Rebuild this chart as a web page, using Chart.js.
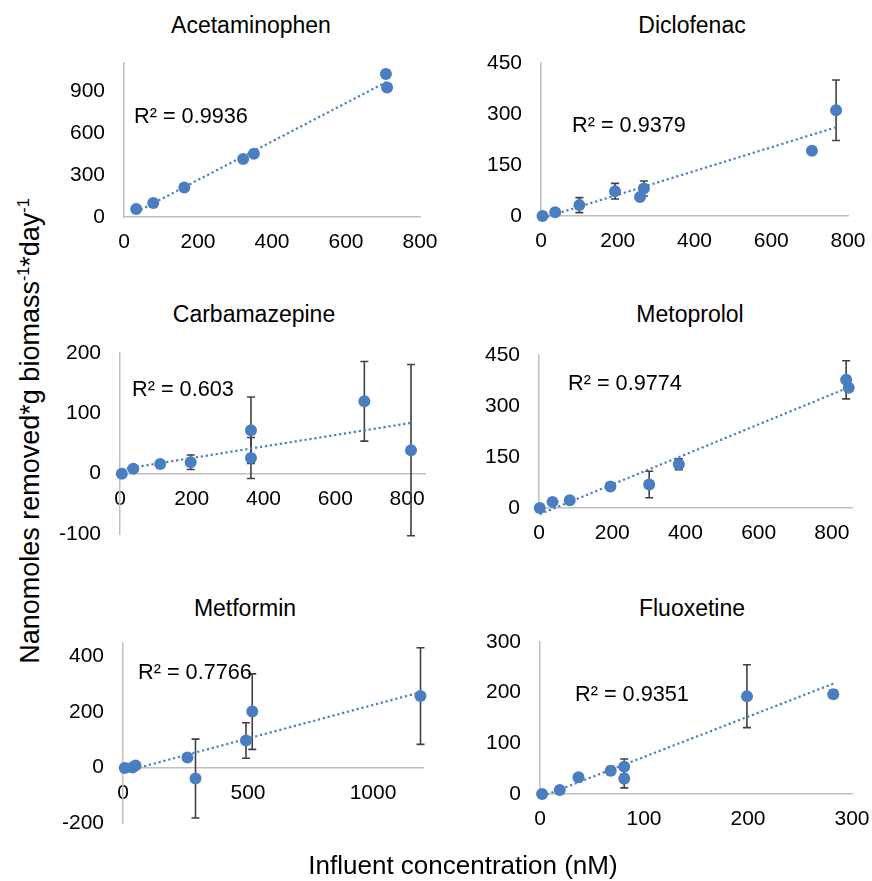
<!DOCTYPE html>
<html><head><meta charset="utf-8">
<script src="https://cdn.jsdelivr.net/npm/chart.js@4.4.0/dist/chart.umd.min.js"></script>
<style>
body{margin:0;width:872px;height:881px;background:#fff;position:relative;overflow:hidden;font-family:"Liberation Sans",Arial,sans-serif;color:#000}
canvas{position:absolute}
.t{position:absolute;white-space:nowrap;line-height:1}
sup{font-size:0.6em;vertical-align:super;line-height:0}
</style></head><body>
<script>
// ---- data ----
const acetX=[33,79,163,322,351,708,711];
const acetY=[57,100,212,416,454,1026,930];
const acetErr=[0,0,0,15,0,0,12];

const dicloX=[4,37,100,193,258,268,706,769];
const dicloY=[0,11,32,73,56,81,192,311];
const dicloErr=[0,0,22,23,8,22,8,89];

const carbaX=[5,37,112,197,365,365,681,811];
const carbaY=[0,8,16,19,72,26,120,39];
const carbaErr=[0,0,0,12,55,34,66,142];

const metoX=[2,37,84,195,301,382,839,846];
const metoY=[0,18,23,63,69,129,377,354];
const metoErr=[0,0,0,0,39,16,56,0];

const metfX=[7,38,50,258,290,492,517,1190];
const metfY=[-2,0,7,36,-40,97,201,257];
const metfErr=[0,0,0,0,142,64,136,174];

const fluoX=[2,19,37,68,81,81,199,282];
const fluoY=[0,8,33,46,54,30,193,197];
const fluoErr=[0,3,6,8,15,18,62,8];

const titles=["Acetaminophen","Diclofenac","Carbamazepine","Metoprolol","Metformin","Fluoxetine"];
const r2Labels=["R² = 0.9936","R² = 0.9379","R² = 0.603","R² = 0.9774","R² = 0.7766","R² = 0.9351"];

const xTicks1=[0,200,400,600,800], yTicks1=[0,300,600,900];
const xTicks2=[0,200,400,600,800], yTicks2=[0,150,300,450];
const xTicks3=[0,200,400,600,800], yTicks3=[-100,0,100,200];
const xTicks4=[0,200,400,600,800], yTicks4=[0,150,300,450];
const xTicks5=[0,500,1000], yTicks5=[-200,0,200,400];
const xTicks6=[0,100,200,300], yTicks6=[0,100,200,300];

const xAxisTitle="Influent concentration (nM)";

// ---- layout ----
const BLUE='#4A7EC1', GRAY='#BFBFBF', ERR='#404040';
const FONT='"Liberation Sans", Arial, sans-serif';
const PADL=70, PADT=20, PADR=30, PADB=45;

const panels=[
 {xs:acetX,ys:acetY,errs:acetErr,xt:xTicks1,yt:yTicks1,xr:[0,800],yr:[0,1105],area:[124,63,420,217],tc:[251,25],rp:[134,116],cross:false},
 {xs:dicloX,ys:dicloY,errs:dicloErr,xt:xTicks2,yt:yTicks2,xr:[0,800],yr:[0,450],area:[541,63,848,216],tc:[692,25],rp:[572,125],cross:false},
 {xs:carbaX,ys:carbaY,errs:carbaErr,xt:xTicks3,yt:yTicks3,xr:[0,850],yr:[-100,200],area:[120,353,425,534],tc:[254,314],rp:[132,389],cross:true},
 {xs:metoX,ys:metoY,errs:metoErr,xt:xTicks4,yt:yTicks4,xr:[0,855],yr:[0,450],area:[539,355,852,508],tc:[690,314],rp:[568,383],cross:false},
 {xs:metfX,ys:metfY,errs:metfErr,xt:xTicks5,yt:yTicks5,xr:[0,1200],yr:[-200,448],area:[123,643,423,823],tc:[245,608],rp:[138,672],cross:true},
 {xs:fluoX,ys:fluoY,errs:fluoErr,xt:xTicks6,yt:yTicks6,xr:[0,300],yr:[0,300],area:[540,642,852,794],tc:[692,608],rp:[575,694],cross:false}
];

function fit(xs,ys){
  const n=xs.length; let sx=0,sy=0,sxx=0,sxy=0;
  for(let i=0;i<n;i++){sx+=xs[i];sy+=ys[i];sxx+=xs[i]*xs[i];sxy+=xs[i]*ys[i];}
  const b=(n*sxy-sx*sy)/(n*sxx-sx*sx); const a=(sy-b*sx)/n;
  const x0=Math.min(...xs), x1=Math.max(...xs);
  return [{x:x0,y:a+b*x0},{x:x1,y:a+b*x1}];
}

const errPlugin={id:'errbars',beforeDatasetsDraw(chart){
  const ds=chart.data.datasets[0]; if(!ds.errs) return;
  const xs=chart.scales.x, ys=chart.scales.y, ctx=chart.ctx;
  ctx.save(); ctx.strokeStyle=ERR; ctx.lineWidth=1.6;
  ds.data.forEach((p,i)=>{
    const e=ds.errs[i]; if(!e) return;
    const px=xs.getPixelForValue(p.x), t=ys.getPixelForValue(p.y+e), b=ys.getPixelForValue(p.y-e);
    ctx.beginPath();
    ctx.moveTo(px,t);ctx.lineTo(px,b);
    ctx.moveTo(px-4,t);ctx.lineTo(px+4,t);
    ctx.moveTo(px-4,b);ctx.lineTo(px+4,b);
    ctx.stroke();
  });
  ctx.restore();
}};

function addText(txt,x,y,size,center){
  const d=document.createElement('div'); d.className='t';
  d.textContent=txt; d.style.fontSize=size+'px';
  if(center){d.style.left=x+'px';d.style.top=y+'px';d.style.transform='translate(-50%,-50%)';}
  else{d.style.left=x+'px';d.style.top=(y-0.49*size)+'px';}
  document.body.appendChild(d);
}

panels.forEach((p,k)=>{
  const [l,t,r,b]=p.area;
  const cv=document.createElement('canvas');
  const W=(r-l)+PADL+PADR, H=(b-t)+PADT+PADB;
  cv.width=W; cv.height=H;
  cv.style.left=(l-PADL)+'px'; cv.style.top=(t-PADT)+'px';
  cv.style.width=W+'px'; cv.style.height=H+'px';
  document.body.appendChild(cv);
  const pts=p.xs.map((x,i)=>({x:x,y:p.ys[i]}));
  new Chart(cv,{
    type:'scatter',
    data:{datasets:[
      {data:pts,errs:p.errs,backgroundColor:BLUE,borderColor:BLUE,borderWidth:0,pointRadius:6,pointHoverRadius:6,clip:false},
      {data:fit(p.xs,p.ys),showLine:true,borderColor:BLUE,borderWidth:2.2,borderDash:[2.2,2.8],pointRadius:0,fill:false,clip:false}
    ]},
    options:{
      responsive:false,animation:false,devicePixelRatio:1,
      layout:{autoPadding:false,padding:{left:0,top:PADT,right:PADR,bottom:p.cross?PADB:0}},
      plugins:{legend:{display:false},tooltip:{enabled:false},title:{display:false}},
      scales:{
        x:{type:'linear',min:p.xr[0],max:p.xr[1],position:p.cross?{y:0}:'bottom',
           afterFit:s=>{s.height=p.cross?0:PADB;s.paddingLeft=0;s.paddingRight=0;},
           afterBuildTicks:s=>{s.ticks=p.xt.map(v=>({value:v}));},
           grid:{display:false,drawTicks:false},border:{color:GRAY,width:1.5},
           ticks:{padding:13,color:'#000',font:{size:21,family:FONT},maxRotation:0,autoSkip:false,callback:v=>String(v)}},
        y:{type:'linear',min:p.yr[0],max:p.yr[1],position:'left',
           afterFit:s=>{s.width=PADL;s.paddingTop=0;s.paddingBottom=0;},
           afterBuildTicks:s=>{s.ticks=p.yt.map(v=>({value:v}));},
           grid:{display:false,drawTicks:false},border:{color:GRAY,width:1.5},
           ticks:{padding:19,color:'#000',font:{size:21,family:FONT},autoSkip:false,callback:v=>String(v)}}
      }
    },
    plugins:[errPlugin]
  });
  addText(titles[k],p.tc[0],p.tc[1],23,true);
  addText(r2Labels[k],p.rp[0],p.rp[1],21.7,false);
});

addText(xAxisTitle,463,865,26,true);
const yt=document.createElement('div'); yt.className='t';
yt.style.left='30px'; yt.style.top='431px'; yt.style.fontSize='27px';
yt.style.transform='translate(-50%,-50%) rotate(-90deg)';
yt.innerHTML='Nanomoles removed*g biomass<sup>-1</sup>*day<sup>-1</sup>';
document.body.appendChild(yt);
</script>
</body></html>
